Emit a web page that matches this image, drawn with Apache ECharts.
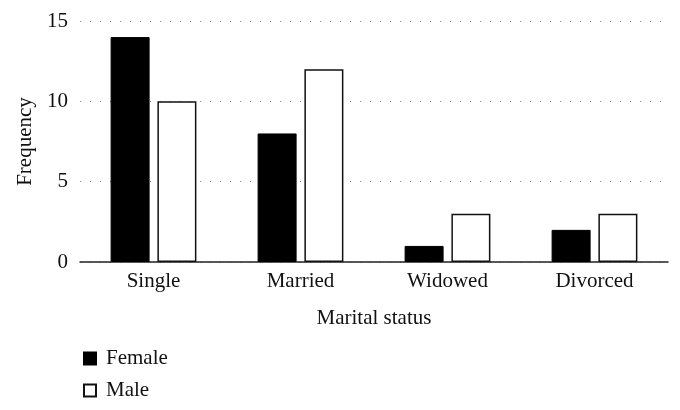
<!DOCTYPE html>
<html>
<head>
<meta charset="utf-8">
<script src="https://cdn.jsdelivr.net/npm/echarts@6/dist/echarts.min.js"></script>
<style>
  html, body { margin: 0; padding: 0; background: #fff; }
  #chart { width: 680px; height: 410px; }
</style>
</head>
<body>
<div id="chart"></div>
<script>
// data
var categories = ['Single', 'Married', 'Widowed', 'Divorced'];
var female = [14, 8, 1, 2];
var male = [10, 12, 3, 3];
var yTicks = [0, 5, 10, 15];

var serif = 'Liberation Serif';

var myChart = echarts.init(document.getElementById('chart'));
myChart.setOption({
  animation: false,
  textStyle: { fontFamily: serif },
  grid: { left: 80, right: 12, top: 21, bottom: 148, outerBoundsMode: 'none' },
  legend: {
    orient: 'vertical',
    left: 78,
    top: 343,
    icon: 'rect',
    itemWidth: 12,
    itemHeight: 12,
    itemGap: 11,
    textStyle: { fontFamily: serif, fontSize: 21, color: '#111', padding: [0, 0, 0, 5] },
    data: ['Female', 'Male']
  },
  xAxis: {
    type: 'category',
    data: categories,
    name: 'Marital status',
    nameLocation: 'middle',
    nameGap: 46,
    nameTextStyle: { fontFamily: serif, fontSize: 21, color: '#111' },
    axisLine: { lineStyle: { color: '#222', width: 1.5 } },
    axisTick: { show: false },
    axisLabel: { fontFamily: serif, fontSize: 21, color: '#111', margin: 9 }
  },
  yAxis: {
    type: 'value',
    min: yTicks[0],
    max: yTicks[yTicks.length - 1],
    interval: 5,
    name: 'Frequency',
    nameLocation: 'middle',
    nameGap: 42,
    nameRotate: 90,
    nameTextStyle: { fontFamily: serif, fontSize: 21, color: '#111' },
    axisLine: { show: false },
    axisTick: { show: false },
    axisLabel: { fontFamily: serif, fontSize: 21, color: '#111', margin: 12 },
    splitLine: {
      show: true,
      lineStyle: { color: '#888', type: [1, 9], width: 1.2 }
    }
  },
  series: [
    {
      name: 'Female',
      type: 'bar',
      data: female,
      barWidth: 39,
      barGap: '20%',
      itemStyle: { color: '#000', borderColor: '#000', borderWidth: 1 }
    },
    {
      name: 'Male',
      type: 'bar',
      data: male,
      barWidth: 39,
      itemStyle: { color: '#fff', borderColor: '#111', borderWidth: 1.5 }
    }
  ]
});
</script>
</body>
</html>
